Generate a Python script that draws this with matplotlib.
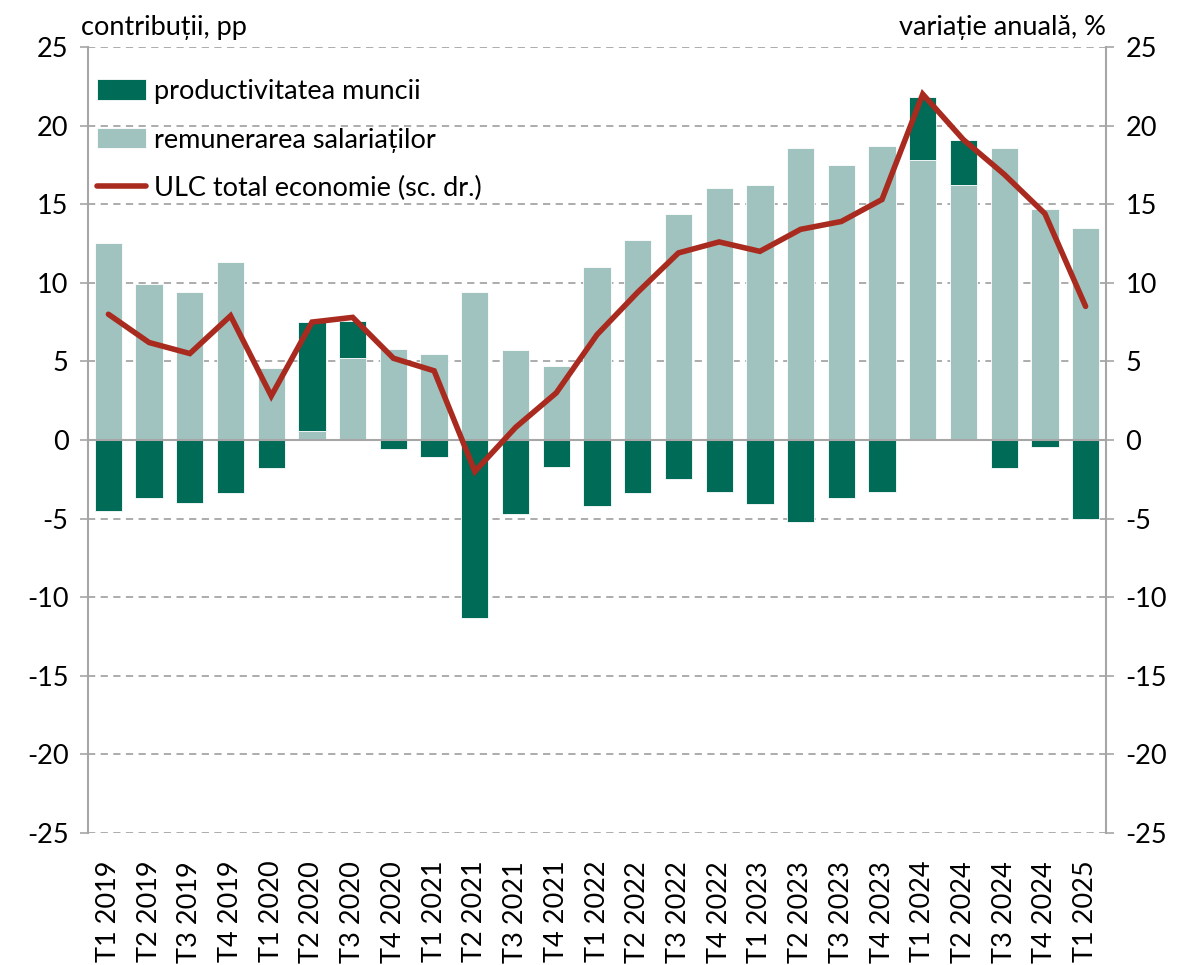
import matplotlib
matplotlib.use("Agg")
import matplotlib.pyplot as plt
import numpy as np

categories = ["T1 2019", "T2 2019", "T3 2019", "T4 2019",
              "T1 2020", "T2 2020", "T3 2020", "T4 2020",
              "T1 2021", "T2 2021", "T3 2021", "T4 2021",
              "T1 2022", "T2 2022", "T3 2022", "T4 2022",
              "T1 2023", "T2 2023", "T3 2023", "T4 2023",
              "T1 2024", "T2 2024", "T3 2024", "T4 2024",
              "T1 2025"]
remunerare = [12.5, 9.9, 9.4, 11.3, 4.6, 0.6, 5.2, 5.8, 5.5, 9.4, 5.7, 4.7,
              11.0, 12.7, 14.4, 16.0, 16.2, 18.6, 17.5, 18.7, 17.8, 16.2, 18.6, 14.7, 13.5]
productivitate = [-4.5, -3.7, -4.0, -3.4, -1.8, 6.9, 2.4, -0.6, -1.1, -11.3, -4.7, -1.7,
                  -4.2, -3.4, -2.5, -3.3, -4.1, -5.2, -3.7, -3.3, 4.0, 2.9, -1.8, -0.45, -5.0]
ulc = [8.0, 6.2, 5.5, 7.9, 2.8, 7.5, 7.8, 5.2, 4.4, -2.0, 0.8, 3.0,
       6.7, 9.4, 11.9, 12.6, 12.0, 13.4, 13.9, 15.3, 22.0, 19.1, 16.9, 14.4, 8.5]

plt.rcParams['font.family'] = ['Lato', 'DejaVu Sans']
plt.rcParams['axes.unicode_minus'] = False

dark = "#006B56"
light = "#A0C3BF"
red = "#A92B1F"
gridc = "#A6A6A6"

fig = plt.figure(figsize=(11.85, 9.65), dpi=100)
ax = fig.add_axes([0.0743, 0.1368, 0.859, 0.8145])
ax2 = ax.twinx()

x = np.arange(len(categories))
rem = np.array(remunerare)
prod = np.array(productivitate)
bottom_prod = np.where(prod > 0, rem, 0)

ax.bar(x, rem, width=0.67, color=light, edgecolor="white", linewidth=0.6,
       label="remunerarea salariaților", zorder=2)
ax.bar(x, prod, width=0.67, bottom=bottom_prod, color=dark, edgecolor="white",
       linewidth=0.6, label="productivitatea muncii", zorder=2)
ax2.plot(x, ulc, color=red, linewidth=4.0, solid_capstyle="round",
         solid_joinstyle="miter", label="ULC total economie (sc. dr.)", zorder=3)

for a in (ax, ax2):
    a.set_ylim(-25, 25)
    a.set_yticks(np.arange(-25, 26, 5))
    a.set_xlim(-0.5, len(categories) - 0.5)

ax.yaxis.grid(True, linestyle=(0, (4, 3)), color=gridc, linewidth=1.3, zorder=0)
ax.set_axisbelow(True)
ax.axhline(0, color=gridc, linewidth=1.5, zorder=2.5)

for a in (ax, ax2):
    for s in ("top", "bottom"):
        a.spines[s].set_visible(False)
ax.spines["left"].set_color(gridc)
ax.spines["left"].set_linewidth(1.5)
ax.spines["right"].set_visible(False)
ax2.spines["left"].set_visible(False)
ax2.spines["right"].set_color(gridc)
ax2.spines["right"].set_linewidth(1.5)

ax.tick_params(axis="y", labelsize=19.5, length=6, color=gridc, width=1.2, pad=8)
ax2.tick_params(axis="y", labelsize=19.5, length=6, color=gridc, width=1.2, pad=8)
ax.set_xticks(x)
ax.set_xticklabels(categories, rotation=90, fontsize=19.5)
ax.tick_params(axis="x", length=0, pad=20)

fig.text(0.068, 0.972, "contribuții, pp", fontsize=19.5, ha="left", va="center")
fig.text(0.933, 0.972, "variație anuală, %", fontsize=19.5, ha="right", va="center")

h1, l1 = ax.get_legend_handles_labels()
h2, l2 = ax2.get_legend_handles_labels()
handles = [h1[1], h1[0], h2[0]]
labels = [l1[1], l1[0], l2[0]]
leg = ax.legend(handles, labels, loc="upper left", bbox_to_anchor=(0.009, 0.959),
                frameon=False, fontsize=19.5, handlelength=1.8, handleheight=0.8,
                handletextpad=0.3, labelspacing=0.86, borderaxespad=0, borderpad=0)

fig.savefig("out.png", dpi=100)
